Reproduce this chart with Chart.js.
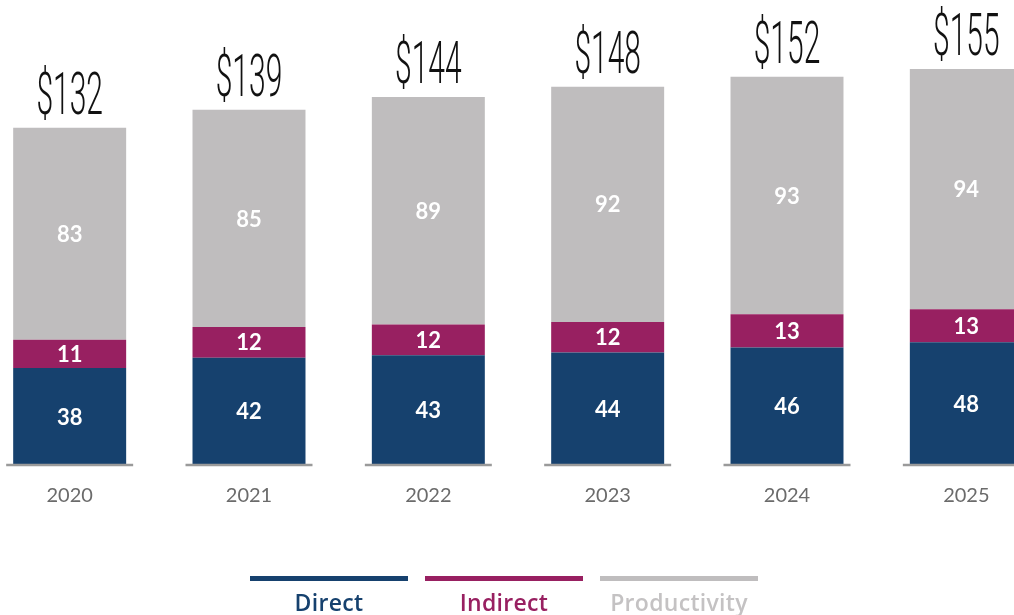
<!DOCTYPE html>
<html>
<head>
<meta charset="utf-8">
<script src="https://cdn.jsdelivr.net/npm/chart.js@4.4.0/dist/chart.umd.min.js"></script>
<style>
  html, body { margin: 0; padding: 0; background: #fff; overflow: hidden; width: 1014px; height: 615px; }
  #wrap { position: absolute; left: -20px; top: 0; width: 1076px; height: 615px; }
  #legend { position: absolute; left: 0; top: 0; width: 1014px; height: 615px; pointer-events: none; }
  .lg { position: absolute; top: 576px; width: 158px; }
  .lg .ln { height: 5px; width: 158px; }
  .lg .tx { text-align: center; font-family: "Open Sans", Lato, sans-serif; font-weight: 600; font-size: 23px; letter-spacing: 0.3px; margin-top: 8px; line-height: 26px; white-space: nowrap; }
</style>
</head>
<body>
<div id="wrap"><canvas id="c" width="1076" height="615"></canvas></div>
<div id="legend"></div>
<script>
const categories = ["2020", "2021", "2022", "2023", "2024", "2025"];
const direct = [38, 42, 43, 44, 46, 48];
const indirect = [11, 12, 12, 12, 13, 13];
const productivity = [83, 85, 89, 92, 93, 94];
const seriesNames = ["Direct", "Indirect", "Productivity"];
const seriesColors = ["#16416e", "#982061", "#bfbdbe"];
const legendTextColors = ["#16416e", "#982061", "#c4c2c3"];

const legendDiv = document.getElementById('legend');
seriesNames.forEach((n, i) => {
  const d = document.createElement('div');
  d.className = 'lg';
  d.style.left = (250 + i * 175) + 'px';
  d.innerHTML = '<div class="ln" style="background:' + seriesColors[i] + '"></div><div class="tx" style="color:' + legendTextColors[i] + '">' + n + '</div>';
  legendDiv.appendChild(d);
});

const labelPlugin = {
  id: 'labelPlugin',
  afterDatasetsDraw(chart) {
    const ctx = chart.ctx;
    const yScale = chart.scales.y;
    const y0 = yScale.getPixelForValue(0);
    const metas = chart.data.datasets.map((_, i) => chart.getDatasetMeta(i));
    // baseline segments
    ctx.save();
    ctx.strokeStyle = '#9a9a9a';
    ctx.lineWidth = 2.5;
    metas[0].data.forEach(bar => {
      const half = bar.width / 2;
      ctx.beginPath();
      ctx.moveTo(bar.x - half - 7, y0);
      ctx.lineTo(bar.x + half + 7, y0);
      ctx.stroke();
    });
    ctx.restore();
    // segment labels
    ctx.save();
    ctx.fillStyle = '#ffffff';
    ctx.font = 'bold 22px Lato, "Open Sans", sans-serif';
    ctx.textAlign = 'center';
    ctx.textBaseline = 'middle';
    chart.data.datasets.forEach((ds, di) => {
      metas[di].data.forEach((bar, i) => {
        const yc = (bar.y + bar.base) / 2;
        ctx.fillText(String(ds.data[i]), bar.x, yc + 1);
      });
    });
    ctx.restore();
    // totals
    ctx.save();
    ctx.fillStyle = '#111111';
    ctx.font = '300 60px Roboto, "Liberation Sans", sans-serif';
    ctx.textAlign = 'center';
    ctx.textBaseline = 'alphabetic';
    const top = metas[metas.length - 1].data;
    top.forEach((bar, i) => {
      const total = chart.data.datasets.reduce((s, ds) => s + ds.data[i], 0);
      ctx.save();
      ctx.translate(bar.x, bar.y - 14);
      ctx.scale(0.5, 1);
      ctx.fillText('$' + total, 0, 0);
      ctx.restore();
    });
    ctx.restore();
  }
};

new Chart(document.getElementById('c'), {
  type: 'bar',
  data: {
    labels: categories,
    datasets: [
      { label: seriesNames[0], data: direct, backgroundColor: seriesColors[0] },
      { label: seriesNames[1], data: indirect, backgroundColor: seriesColors[1] },
      { label: seriesNames[2], data: productivity, backgroundColor: seriesColors[2] }
    ]
  },
  options: {
    responsive: false,
    animation: false,
    layout: { padding: 0 },
    datasets: { bar: { categoryPercentage: 1, barPercentage: 0.63, borderWidth: 0 } },
    plugins: { legend: { display: false }, tooltip: { enabled: false } },
    scales: {
      x: {
        stacked: true,
        grid: { display: false, drawTicks: false },
        border: { display: false },
        ticks: { color: '#6b6b6b', font: { family: 'Lato, "Open Sans", sans-serif', size: 20 }, padding: 19 },
        afterFit(scale) { scale.height = 150; }
      },
      y: {
        stacked: true,
        display: false,
        min: 0,
        max: 182
      }
    }
  },
  plugins: [labelPlugin]
});
</script>
</body>
</html>
